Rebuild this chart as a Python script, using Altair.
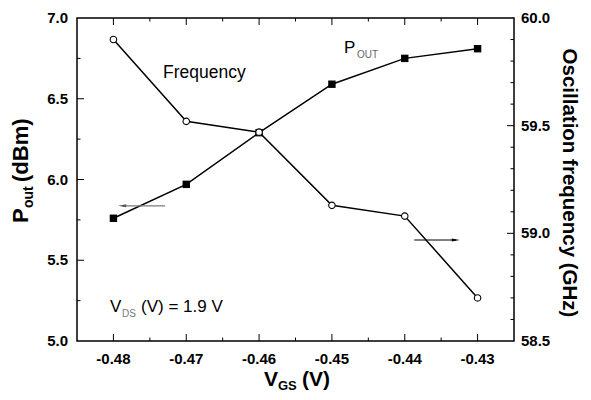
import altair as alt
import pandas as pd

# ---- data ----
vgs = [-0.48, -0.47, -0.46, -0.45, -0.44, -0.43]
pout = [5.76, 5.97, 6.29, 6.59, 6.75, 6.81]
freq = [59.90, 59.52, 59.47, 59.13, 59.08, 58.70]

x_major = [-0.48, -0.47, -0.46, -0.45, -0.44, -0.43]
x_major_text = ["-0.48", "-0.47", "-0.46", "-0.45", "-0.44", "-0.43"]
x_minor = [-0.475, -0.465, -0.455, -0.445, -0.435]
pout_major = [5.5, 6.0, 6.5]
pout_minor = [5.25, 5.75, 6.25, 6.75]
pout_labels = [5.0, 5.5, 6.0, 6.5, 7.0]
pout_labels_text = ["5.0", "5.5", "6.0", "6.5", "7.0"]
freq_major = [59.0, 59.5]
freq_minor = [58.6, 58.7, 58.8, 58.9, 59.1, 59.2, 59.3, 59.4, 59.6, 59.7, 59.8, 59.9]
freq_labels = [58.5, 59.0, 59.5, 60.0]
freq_labels_text = ["58.5", "59.0", "59.5", "60.0"]

arrow_left_x = [-0.4729, -0.4788]
arrow_left_y = [5.837, 5.837]
arrow_right_x = [-0.4387, -0.4330]
arrow_right_y = [58.969, 58.969]

W, H = 437, 323
FONT = "Liberation Sans"
TICK_FONT = 15

xscale = alt.Scale(domain=[-0.485, -0.425], nice=False, zero=False)
pscale = alt.Scale(domain=[5.0, 7.0], nice=False, zero=False)
fscale = alt.Scale(domain=[58.5, 60.0], nice=False, zero=False)

df = pd.DataFrame({"vgs": vgs, "pout": pout, "freq": freq})


def X(field):
    return alt.X(field, type="quantitative", scale=xscale, axis=None)


def Y(field, scale):
    return alt.Y(field, type="quantitative", scale=scale, axis=None)


def xticks(vals, y1, y2):
    return alt.Chart(pd.DataFrame({"v": vals})).mark_rule(color="black", strokeWidth=1).encode(
        x=X("v"), y=alt.value(y1), y2=alt.value(y2))


def yticks(vals, scale, x1, x2):
    return alt.Chart(pd.DataFrame({"v": vals})).mark_rule(color="black", strokeWidth=1).encode(
        y=Y("v", scale), x=alt.value(x1), x2=alt.value(x2))


# ---- left (Pout) group ----
pout_line = alt.Chart(df).mark_line(color="black", strokeWidth=1.5).encode(
    x=X("vgs"), y=Y("pout", pscale))
pout_pts = alt.Chart(df).mark_point(shape="square", filled=True, color="black",
                                    size=55, opacity=1).encode(
    x=X("vgs"), y=Y("pout", pscale))

x_lab = alt.Chart(pd.DataFrame({"v": x_major, "t": x_major_text})).mark_text(
    font=FONT, fontSize=TICK_FONT, fontWeight="bold", color="black", baseline="top").encode(
    x=X("v"), y=alt.value(H + 11), text="t:N")
left_lab = alt.Chart(pd.DataFrame({"v": pout_labels, "t": pout_labels_text})).mark_text(
    font=FONT, fontSize=TICK_FONT, fontWeight="bold", color="black", align="right",
    baseline="middle").encode(
    y=Y("v", pscale), x=alt.value(-9), text="t:N")

arrow_l_df = pd.DataFrame({"x": arrow_left_x, "y": arrow_left_y})
arrow_l_line = alt.Chart(arrow_l_df).mark_line(color="#7a7a7a", strokeWidth=1.2).encode(
    x=X("x"), y=Y("y", pscale))
arrow_l_head = alt.Chart(arrow_l_df.iloc[[1]]).mark_point(
    shape="M-1,0L1,-0.38L1,0.38Z", filled=True, color="#555555", size=64, opacity=1).encode(
    x=X("x"), y=Y("y", pscale))

left = alt.layer(
    pout_line,
    xticks(x_major, H, H - 7), xticks(x_minor, H, H - 3.5),
    xticks(x_major, 0, 7), xticks(x_minor, 0, 3.5),
    yticks(pout_major, pscale, 0, 7), yticks(pout_minor, pscale, 0, 3.5),
    arrow_l_line, arrow_l_head,
    x_lab, left_lab,
    pout_pts,
)

# ---- right (frequency) group ----
freq_line = alt.Chart(df).mark_line(color="black", strokeWidth=1.5).encode(
    x=X("vgs"), y=Y("freq", fscale))
freq_pts = alt.Chart(df).mark_point(shape="circle", filled=True, fill="white",
                                    stroke="black", strokeWidth=1.1, size=42,
                                    opacity=1).encode(
    x=X("vgs"), y=Y("freq", fscale))

right_lab = alt.Chart(pd.DataFrame({"v": freq_labels, "t": freq_labels_text})).mark_text(
    font=FONT, fontSize=TICK_FONT, fontWeight="bold", color="black", align="left",
    baseline="middle").encode(
    y=Y("v", fscale), x=alt.value(W + 7), text="t:N")

arrow_r_df = pd.DataFrame({"x": arrow_right_x, "y": arrow_right_y})
arrow_r_line = alt.Chart(arrow_r_df).mark_line(color="black", strokeWidth=1).encode(
    x=X("x"), y=Y("y", fscale))
arrow_r_head = alt.Chart(arrow_r_df.iloc[[1]]).mark_point(
    shape="M1,0L-1,-0.38L-1,0.38Z", filled=True, color="black", size=64, opacity=1).encode(
    x=X("x"), y=Y("y", fscale))

right = alt.layer(
    freq_line,
    yticks(freq_major, fscale, W, W - 7), yticks(freq_minor, fscale, W, W - 3.5),
    arrow_r_line, arrow_r_head,
    right_lab,
    freq_pts,
)


# ---- text annotations (pixel positions relative to plot area) ----
def label(text, px, py, size, weight="normal", color="black", angle=0, align="left"):
    return alt.Chart(pd.DataFrame({"t": [text]})).mark_text(
        font=FONT, fontSize=size, fontWeight=weight, color=color, angle=angle,
        align=align, baseline="alphabetic").encode(
        x=alt.value(px), y=alt.value(py), text="t:N")


texts = [
    label("Frequency", 86, 60, 17.5),
    label("P", 267, 35, 17),
    label("OUT", 280, 40, 10, color="#666666"),
    label("V", 33, 294, 17),
    label("DS", 45, 299, 10, color="#777777"),
    label("(V) = 1.9 V", 64, 294, 17),
    # x title
    label("V", 187, 368, 21, "bold"),
    label("GS", 201, 372, 13, "bold"),
    label("(V)", 225, 368, 21, "bold"),
    # left title
    label("P", -49, 205, 22, "bold", angle=270),
    label("out", -44, 190, 14, "bold", angle=270),
    label("(dBm)", -49, 164, 22, "bold", angle=270),
    # right title
    label("Oscillation frequency (GHz)", 486, 165, 20.5, "bold", angle=90, align="center"),
]

chart = alt.layer(left, right, *texts).resolve_scale(y="independent").properties(
    width=W, height=H, autosize="none", background="white",
    padding={"left": 69, "top": 10, "right": 69, "bottom": 51},
).configure_view(stroke="black", strokeWidth=1.5)

chart.save("out.html", embed_options={"renderer": "svg", "actions": False})
